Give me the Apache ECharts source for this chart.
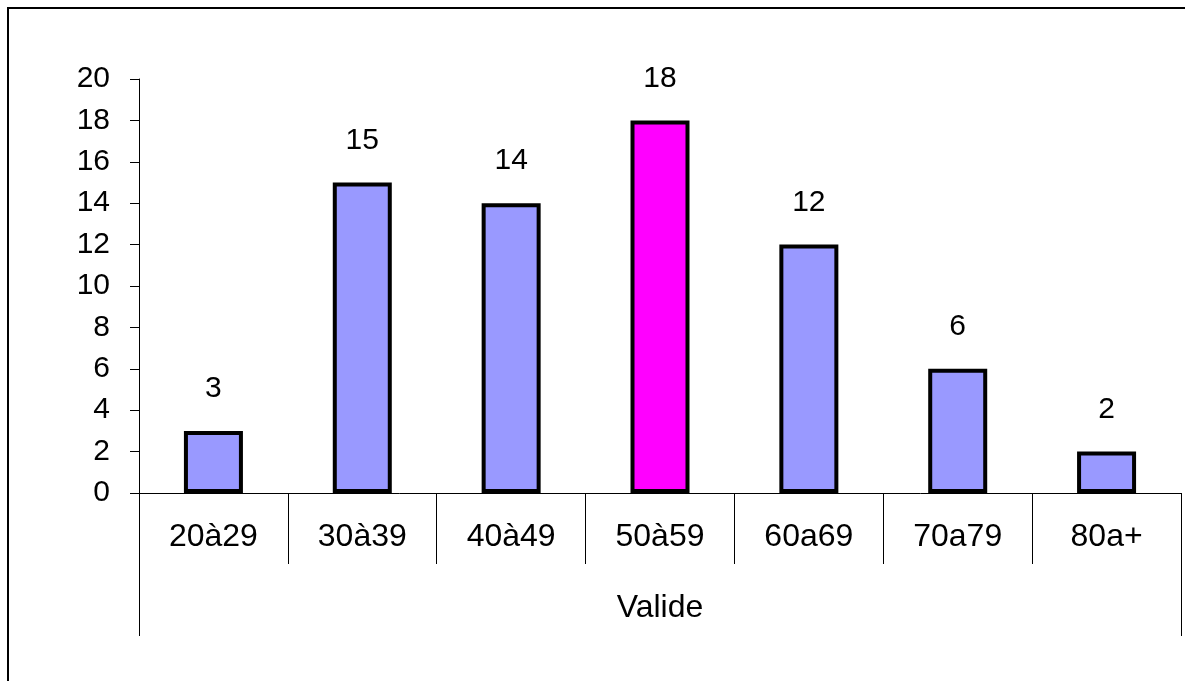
<!DOCTYPE html>
<html>
<head>
<meta charset="utf-8">
<script src="https://cdn.jsdelivr.net/npm/echarts@6/dist/echarts.min.js"></script>
<style>
  html, body { margin: 0; padding: 0; background: #fff; }
  #chart { width: 1185px; height: 681px; }
</style>
</head>
<body>
<div id="chart"></div>
<script>
// Age groups and counts
const categories = ['20à29', '30à39', '40à49', '50à59', '60a69', '70a79', '80a+'];
const counts = [3, 15, 14, 18, 12, 6, 2];
const groupLabels = ['Valide'];
const yTicks = [0, 20, 2]; // min, max, step

const highlighted = '50à59';
const baseColor = '#9999FF';
const highlightColor = '#FF00FF';
const mainFont = '"Liberation Sans", Arial, sans-serif';

const chart = echarts.init(document.getElementById('chart'), null, { renderer: 'canvas' });

chart.setOption({
  animation: false,
  backgroundColor: '#ffffff',
  grid: { left: 139, right: 4, top: 79, bottom: 188, containLabel: false },
  graphic: [{
    type: 'rect',
    shape: { x: 8, y: 8, width: 1400, height: 900 },
    style: { fill: 'none', stroke: '#000', lineWidth: 2 },
    silent: true
  }],
  xAxis: [{
    type: 'category',
    data: categories,
    position: 'bottom',
    offset: 0,
    axisLine: { show: true, lineStyle: { color: '#000', width: 1 } },
    axisTick: { show: true, interval: 0, length: 71, lineStyle: { color: '#000', width: 1 } },
    axisLabel: {
      interval: 0, margin: 44, verticalAlign: 'middle',
      color: '#000', fontSize: 32, fontFamily: mainFont
    },
    splitLine: { show: false }
  }, {
    type: 'category',
    data: groupLabels,
    position: 'bottom',
    offset: 0,
    axisLine: { show: false },
    axisTick: { show: true, interval: 0, length: 143, lineStyle: { color: '#000', width: 1 } },
    axisLabel: {
      margin: 115, verticalAlign: 'middle',
      color: '#000', fontSize: 32, fontFamily: mainFont
    },
    splitLine: { show: false }
  }],
  yAxis: {
    type: 'value',
    min: yTicks[0], max: yTicks[1], interval: yTicks[2],
    axisLine: { show: true, lineStyle: { color: '#000', width: 1 } },
    axisTick: { show: true, length: 9, lineStyle: { color: '#000', width: 1 } },
    axisLabel: { margin: 29, color: '#000', fontSize: 30, fontFamily: mainFont },
    splitLine: { show: false }
  },
  series: [{
    type: 'bar',
    xAxisIndex: 0,
    data: counts,
    barWidth: 59,
    itemStyle: {
      color: p => (categories[p.dataIndex] === highlighted ? highlightColor : baseColor),
      borderColor: '#000',
      borderWidth: 4
    },
    label: {
      show: true, position: 'top', distance: 27,
      color: '#000', fontSize: 30, fontFamily: mainFont
    }
  }]
});
</script>
</body>
</html>
